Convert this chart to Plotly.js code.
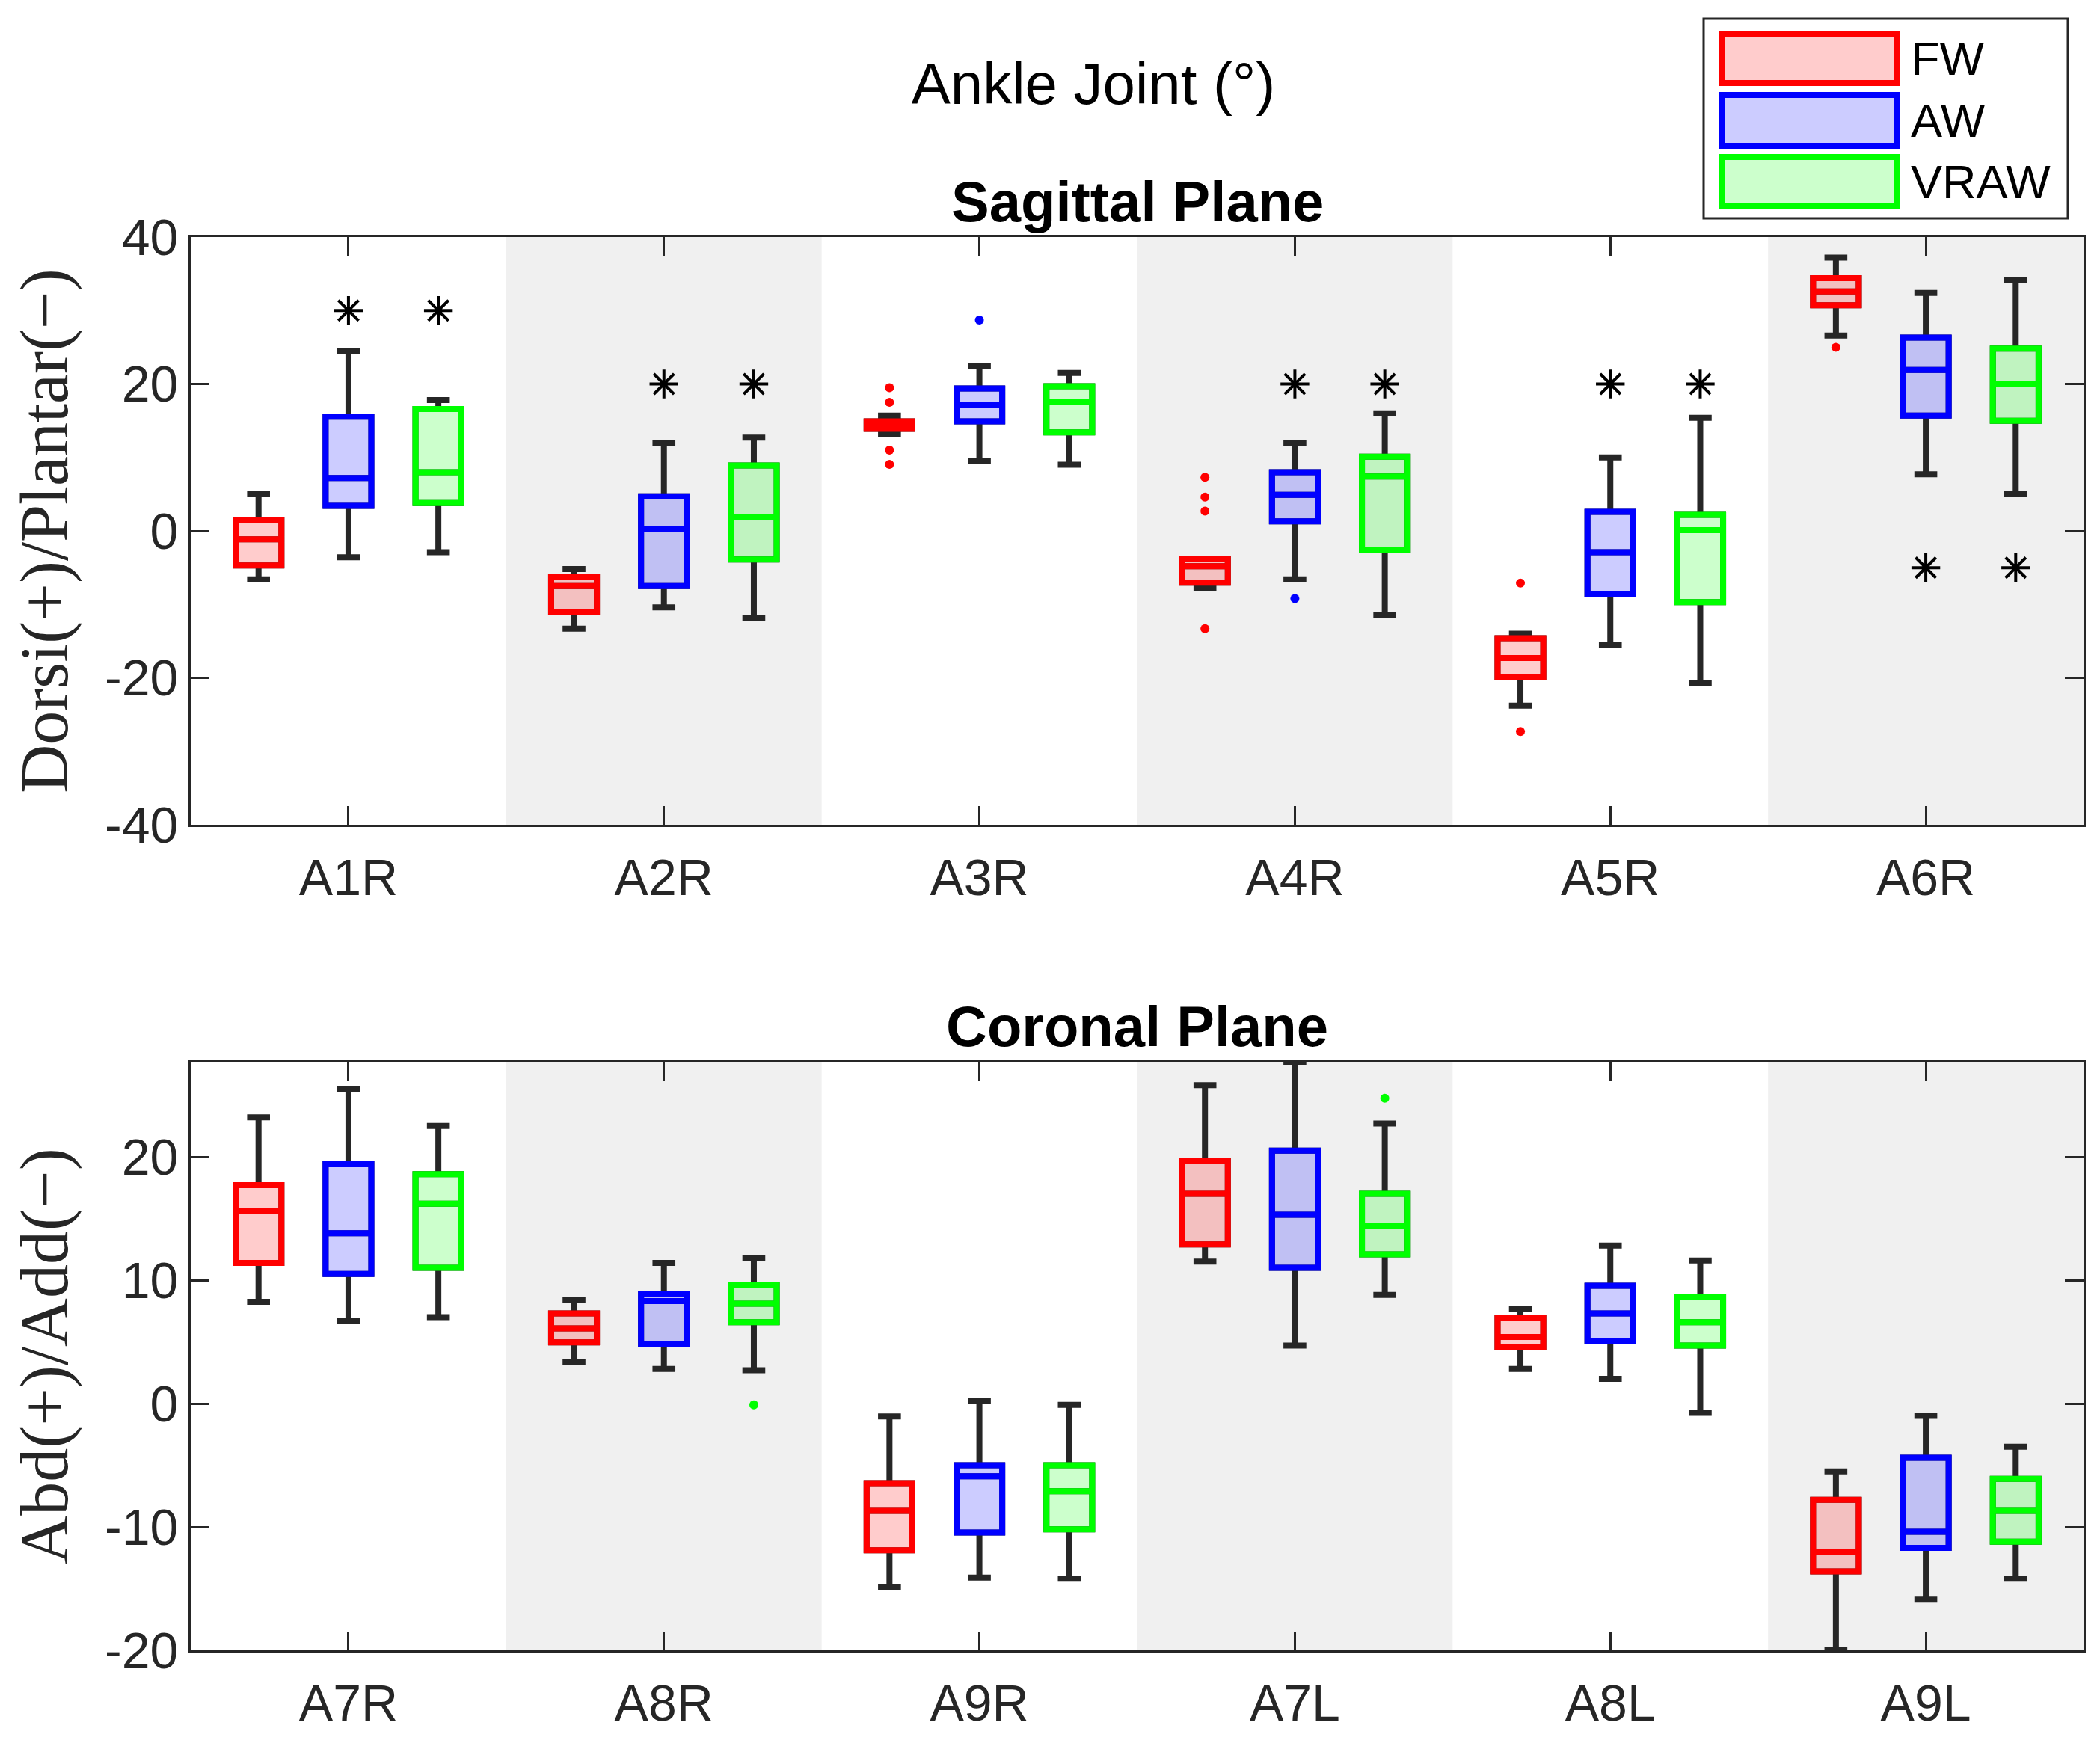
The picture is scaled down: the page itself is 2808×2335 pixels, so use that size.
<!DOCTYPE html>
<html>
<head>
<meta charset="utf-8">
<script src="https://cdn.plot.ly/plotly-3.0.1.min.js"></script>
<style>html,body{margin:0;padding:0;background:#fff;}#chart{width:2808px;height:2335px;}</style>
</head>
<body>
<div id="chart"></div>
<script>
// ---------------- DATA ----------------
const seriesNames = ['FW', 'AW', 'VRAW'];
const catsTop = ['A1R', 'A2R', 'A3R', 'A4R', 'A5R', 'A6R'];
const catsBot = ['A7R', 'A8R', 'A9R', 'A7L', 'A8L', 'A9L'];

// Sagittal plane (top)
const fwTopLo  = [-6.6, -13.3, 13.2, -7.8, -23.8, 26.6];
const fwTopQ1  = [-4.7, -11.1, 13.9, -7.05, -19.9, 30.7];
const fwTopMed = [-1.15, -7.5, 14.4, -4.8, -17.3, 32.6];
const fwTopQ3  = [1.46, -6.3, 14.9, -3.8, -14.6, 34.4];
const fwTopHi  = [5.0, -5.2, 15.7, -3.8, -14.0, 37.2];

const awTopLo  = [-3.6, -10.4, 9.5, -6.6, -15.5, 7.7];
const awTopQ1  = [3.4, -7.5, 14.9, 1.3, -8.6, 15.7];
const awTopMed = [7.2, 0.2, 17.1, 4.9, -2.9, 21.9];
const awTopQ3  = [15.55, 4.7, 19.4, 8.0, 2.6, 26.3];
const awTopHi  = [24.5, 11.9, 22.5, 11.9, 10.0, 32.4];

const vrTopLo  = [-2.9, -11.8, 9.0, -11.5, -20.7, 5.0];
const vrTopQ1  = [3.8, -3.9, 13.4, -2.6, -9.7, 15.0];
const vrTopMed = [8.0, 1.9, 17.6, 7.4, 0.1, 20.0];
const vrTopQ3  = [16.6, 8.9, 19.7, 10.1, 2.2, 24.8];
const vrTopHi  = [17.8, 12.7, 21.5, 16.0, 15.4, 34.1];

// outliers (category number, value)
const fwTopOutCat = [3, 3, 3, 3, 4, 4, 4, 4, 5, 5, 6];
const fwTopOutVal = [19.5, 17.5, 11.0, 9.05, 7.3, 4.6, 2.7, -13.3, -7.1, -27.3, 25.0];
const awTopOutCat = [3, 4];
const awTopOutVal = [28.7, -9.2];

// significance asterisks (category number, value) for AW and VRAW
const starTopCat = [1, 2, 4, 5, 6];
const starTopVal = [30, 20, 20, 20, -5];

// Coronal plane (bottom)
const fwBotLo  = [8.25, 3.4, -14.9, 11.5, 2.8, -20.0];
const fwBotQ1  = [11.4, 4.95, -11.9, 12.9, 4.6, -13.6];
const fwBotMed = [15.6, 6.1, -8.7, 17.0, 5.4, -12.0];
const fwBotQ3  = [17.7, 7.3, -6.45, 19.65, 6.95, -7.8];
const fwBotHi  = [23.2, 8.4, -1.05, 25.8, 7.7, -5.5];

const awBotLo  = [6.7, 2.8, -14.1, 4.7, 2.0, -15.9];
const awBotQ1  = [10.5, 4.8, -10.45, 11.0, 5.07, -11.7];
const awBotMed = [13.8, 8.3, -5.9, 15.3, 7.3, -10.4];
const awBotQ3  = [19.4, 8.85, -5.0, 20.5, 9.55, -4.4];
const awBotHi  = [25.5, 11.4, 0.2, 27.7, 12.8, -1.0];

const vrBotLo  = [7.0, 2.7, -14.2, 8.8, -0.75, -14.2];
const vrBotQ1  = [11.0, 6.6, -10.2, 12.1, 4.7, -11.2];
const vrBotMed = [16.2, 8.1, -7.1, 14.4, 6.6, -8.7];
const vrBotQ3  = [18.6, 9.6, -5.0, 17.0, 8.65, -6.1];
const vrBotHi  = [22.5, 11.8, -0.1, 22.7, 11.6, -3.5];

const vrBotOutCat = [2, 4];
const vrBotOutVal = [-0.1, 24.75];

const yTicksTop = [-40, -20, 0, 20, 40];
const yTickTextTop = ['-40', '-20', '0', '20', '40'];
const yTicksBot = [-20, -10, 0, 10, 20];
const yTickTextBot = ['-20', '-10', '0', '10', '20'];

// ---------------- STYLE ----------------
const SANS = 'Liberation Sans, Arial, Helvetica, sans-serif';
const SERIF = 'Liberation Serif, Times New Roman, serif';
const AX = '#262626';
const colors = {FW: '#ff0000', AW: '#0000ff', VRAW: '#00ff00'};
const fills = {FW: 'rgba(255,0,0,0.2)', AW: 'rgba(0,0,255,0.2)', VRAW: 'rgba(0,255,0,0.2)'};
const offsets = {FW: -0.285, AW: 0, VRAW: 0.285};
const BOXW = 0.145;
const LW = 8;

const W = 2808, H = 2335;
const M = {l: 255, r: 22, t: 317, b: 128};
const PW = W - M.l - M.r, PH = H - M.t - M.b;
const topPlotBottom = 1103, botPlotTop = 1420;
const px2x = p => (p - M.l) / PW;
const px2y = p => (H - M.b - p) / PH;

const topDomain = [px2y(topPlotBottom), 1];
const botDomain = [0, px2y(botPlotTop)];

function pos(cats, off) { return cats.map(c => c + off); }
function idx(n) { return Array.from({length: n}, (_, i) => i + 1); }

const blackTraces = [], colorTraces = [], pointTraces = [];
function addBoxes(name, xa, ya, lo, q1, med, q3, hi) {
  const x = pos(idx(q1.length), offsets[name]);
  blackTraces.push({
    type: 'box', xaxis: xa, yaxis: ya, x: x,
    q1: q1, median: med, q3: q3, lowerfence: lo, upperfence: hi,
    width: BOXW, whiskerwidth: 0.5, boxpoints: false,
    line: {color: AX, width: LW}, fillcolor: 'rgba(0,0,0,0)',
    showlegend: false, hoverinfo: 'skip', name: name
  });
  colorTraces.push({
    type: 'box', xaxis: xa, yaxis: ya, x: x,
    q1: q1, median: med, q3: q3, lowerfence: q1, upperfence: q3,
    width: BOXW, whiskerwidth: 0.5, boxpoints: false,
    line: {color: colors[name], width: LW}, fillcolor: fills[name],
    showlegend: false, name: name
  });
}
function addOutliers(name, xa, ya, cats, vals) {
  pointTraces.push({
    type: 'scatter', mode: 'markers', xaxis: xa, yaxis: ya,
    x: pos(cats, offsets[name]), y: vals,
    marker: {color: colors[name], size: 12, line: {width: 0}},
    showlegend: false, hoverinfo: 'skip'
  });
}
function addStars(name, xa, ya, cats, vals) {
  pointTraces.push({
    type: 'scatter', mode: 'markers', xaxis: xa, yaxis: ya,
    x: pos(cats, offsets[name]), y: vals,
    marker: {symbol: 'asterisk-open', color: '#000', size: 32, line: {color: '#000', width: 4}},
    showlegend: false, hoverinfo: 'skip'
  });
}

addBoxes('FW', 'x', 'y', fwTopLo, fwTopQ1, fwTopMed, fwTopQ3, fwTopHi);
addBoxes('AW', 'x', 'y', awTopLo, awTopQ1, awTopMed, awTopQ3, awTopHi);
addBoxes('VRAW', 'x', 'y', vrTopLo, vrTopQ1, vrTopMed, vrTopQ3, vrTopHi);
addBoxes('FW', 'x2', 'y2', fwBotLo, fwBotQ1, fwBotMed, fwBotQ3, fwBotHi);
addBoxes('AW', 'x2', 'y2', awBotLo, awBotQ1, awBotMed, awBotQ3, awBotHi);
addBoxes('VRAW', 'x2', 'y2', vrBotLo, vrBotQ1, vrBotMed, vrBotQ3, vrBotHi);

addOutliers('FW', 'x', 'y', fwTopOutCat, fwTopOutVal);
addOutliers('AW', 'x', 'y', awTopOutCat, awTopOutVal);
addOutliers('VRAW', 'x2', 'y2', vrBotOutCat, vrBotOutVal);
addStars('AW', 'x', 'y', starTopCat, starTopVal);
addStars('VRAW', 'x', 'y', starTopCat, starTopVal);

const data = blackTraces.concat(colorTraces, pointTraces);

// ---------------- LAYOUT ----------------
function xAxis(anchor, cats) {
  return {
    domain: [0, 1], anchor: anchor, range: [0.5, 6.5],
    tickmode: 'array', tickvals: idx(cats.length), ticktext: cats,
    ticks: 'inside', ticklen: 25, tickwidth: 3, tickcolor: AX,
    showline: true, linewidth: 3, linecolor: AX, mirror: 'ticks',
    showgrid: false, zeroline: false, fixedrange: true, ticklabelstandoff: 9,
    tickfont: {family: SANS, size: 68, color: AX}
  };
}
function yAxis(anchor, domain, range, ticks, tickText, title) {
  return {
    domain: domain, anchor: anchor, range: range,
    tickmode: 'array', tickvals: ticks, ticktext: tickText,
    ticks: 'inside', ticklen: 25, tickwidth: 3, tickcolor: AX,
    showline: true, linewidth: 3, linecolor: AX, mirror: 'ticks',
    showgrid: false, zeroline: false, fixedrange: true,
    tickfont: {family: SANS, size: 68, color: AX},
    title: {text: title, font: {family: SERIF, size: 90, color: AX}, standoff: 20}
  };
}

const shapes = [];
[1.5, 3.5, 5.5].forEach(s => {
  ['x', 'x2'].forEach((xa, i) => {
    shapes.push({type: 'rect', xref: xa, yref: (i ? 'y2' : 'y') + ' domain',
      x0: s, x1: s + 1, y0: 0, y1: 1, fillcolor: '#f0f0f0', line: {width: 0}, layer: 'below'});
  });
});

const annotations = [
  {text: '<b>Sagittal Plane</b>', xref: 'paper', yref: 'paper', x: 0.5, y: topDomain[1],
   xanchor: 'center', yanchor: 'bottom', yshift: 3, showarrow: false,
   font: {family: SANS, size: 76, color: '#000'}},
  {text: '<b>Coronal Plane</b>', xref: 'paper', yref: 'paper', x: 0.5, y: botDomain[1],
   xanchor: 'center', yanchor: 'bottom', yshift: 3, showarrow: false,
   font: {family: SANS, size: 76, color: '#000'}}
];
// legend box drawn as shapes + text
shapes.push({type: 'rect', xref: 'paper', yref: 'paper',
  x0: px2x(2278), x1: px2x(2765), y0: px2y(292), y1: px2y(25),
  fillcolor: '#fff', line: {color: AX, width: 3}});
const legRows = [[45, 111], [127, 195], [210, 276]];
seriesNames.forEach((n, i) => {
  const r = legRows[i];
  shapes.push({type: 'rect', xref: 'paper', yref: 'paper',
    x0: px2x(2303), x1: px2x(2536), y0: px2y(r[1]), y1: px2y(r[0]),
    fillcolor: fills[n], line: {color: colors[n], width: LW}});
  annotations.push({text: n, xref: 'paper', yref: 'paper', x: px2x(2553), y: px2y((r[0] + r[1]) / 2),
    xanchor: 'left', yanchor: 'middle', showarrow: false,
    font: {family: SANS, size: 63, color: '#000'}});
});

const layout = {
  width: W, height: H, margin: M,
  paper_bgcolor: '#fff', plot_bgcolor: '#fff',
  showlegend: false, boxmode: 'overlay',
  title: {text: 'Ankle Joint (°)', xref: 'container', yref: 'container',
    x: 1462 / W, y: 1 - 112 / H, xanchor: 'center', yanchor: 'middle',
    font: {family: SANS, size: 78, color: '#000'}},
  xaxis: xAxis('y', catsTop),
  yaxis: yAxis('x', topDomain, [-40, 40], yTicksTop, yTickTextTop, 'Dorsi(+)/Plantar(−)'),
  xaxis2: xAxis('y2', catsBot),
  yaxis2: yAxis('x2', botDomain, [-20, 27.7], yTicksBot, yTickTextBot, 'Abd(+)/Add(−)'),
  shapes: shapes, annotations: annotations
};

Plotly.newPlot('chart', data, layout, {staticPlot: true, displayModeBar: false});
</script>
</body>
</html>
